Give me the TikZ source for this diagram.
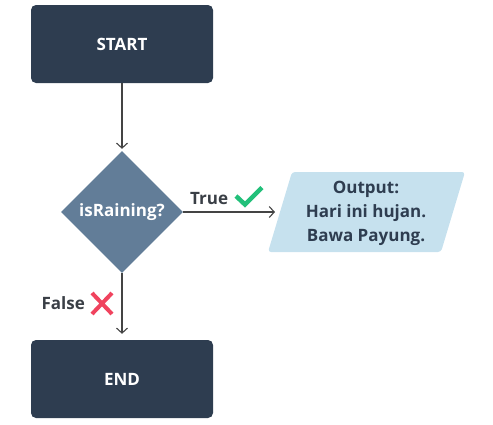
\documentclass[tikz,border=0pt]{standalone}
\usepackage{fontspec}
\setmainfont{Open Sans}
\usetikzlibrary{shapes.geometric,arrows.meta}
\definecolor{darkbox}{HTML}{2E3D50}
\definecolor{diam}{HTML}{627D98}
\definecolor{para}{HTML}{C6E1EE}
\definecolor{linec}{HTML}{444444}
\definecolor{txt}{HTML}{3A3F46}
\definecolor{okgreen}{HTML}{22C07A}
\definecolor{nored}{HTML}{F0435E}
\tikzset{
  termbox/.style={fill=darkbox, rounded corners=5pt, minimum width=182pt, minimum height=78pt, text=white, font=\fontsize{17}{20}\selectfont\bfseries, inner sep=0pt},
  decision/.style={diamond, fill=diam, minimum width=122pt, minimum height=122pt, text=white, font=\fontsize{17}{20}\selectfont\bfseries, inner sep=0pt, aspect=1},
  flow/.style={draw=linec, line width=1.1pt, -{Straight Barb[length=5pt,width=11pt,line width=1.1pt]}},
  lbl/.style={text=txt, font=\fontsize{17}{20}\selectfont\bfseries, inner sep=0pt},
  outtxt/.style={text=darkbox, font=\fontsize{17}{24}\selectfont\bfseries, align=center, inner sep=0pt}
}
\begin{document}
\begin{tikzpicture}[x=1pt,y=1pt]
\useasboundingbox (0,0) rectangle (493,-424);
\node[termbox] (start) at (122,-44) {START};
\node[decision] (dec) at (122,-212) {isRaining?};
\node[termbox] (end) at (122,-379) {END};
% parallelogram
\coordinate (pa) at (268,-252);
\coordinate (pb) at (441,-252);
\coordinate (pc) at (465,-172);
\coordinate (pd) at (292,-172);
\fill[para, rounded corners=3pt] (pa) -- (pb) -- (pc) -- (pd) -- cycle;
\node[outtxt] (out) at (366,-213) {Output:\\Hari ini hujan.\\Bawa Payung.};
\coordinate (outin) at (275,-212);
\draw[flow] (start.south) -- ([yshift=2pt]dec.north);
\draw[flow] (dec.east) -- (outin);
\draw[flow] (dec.south) -- ([yshift=6pt]end.north);
\node[lbl, anchor=base west] (truelbl) at (190,-204) {True};
\node[lbl, anchor=base east] (falselbl) at (85,-309) {False};
\draw[okgreen, line width=4.5pt, line cap=butt] (236,-196) -- (245,-204.5) -- (262,-187.5);
\draw[nored, line width=4pt] (92,-293) -- (112,-314) (112,-293) -- (92,-314);
\end{tikzpicture}
\end{document}
